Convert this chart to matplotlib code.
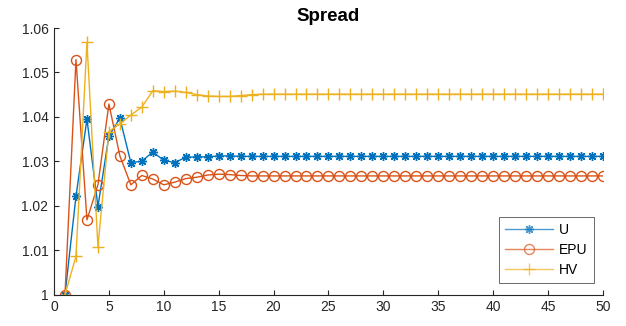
import matplotlib
matplotlib.use("Agg")
import matplotlib.pyplot as plt
from matplotlib.ticker import FuncFormatter

plt.rcParams['font.family'] = ['Liberation Sans', 'DejaVu Sans']

iterations = list(range(1, 51))

u_head = [1.0000, 1.0221, 1.0395, 1.0198, 1.0357, 1.0397, 1.0297, 1.0300, 1.0321,
          1.0302, 1.0297, 1.0309, 1.0310, 1.0310, 1.0312, 1.0312]
u_tail = [1.0311] * (50 - len(u_head))
u_vals = u_head + u_tail

epu_head = [1.0000, 1.0529, 1.0168, 1.0247, 1.0429, 1.0312, 1.0247, 1.0268, 1.0260,
            1.0247, 1.0253, 1.0261, 1.0264, 1.0269, 1.0271, 1.0270, 1.0268]
epu_tail = [1.0267] * (50 - len(epu_head))
epu_vals = epu_head + epu_tail

hv_head = [1.0000, 1.0086, 1.0568, 1.0108, 1.0367, 1.0384, 1.0404, 1.0422, 1.0459,
           1.0457, 1.0458, 1.0455, 1.0450, 1.0447, 1.0446, 1.0446, 1.0448, 1.0450,
           1.0451]
hv_tail = [1.0451] * (50 - len(hv_head))
hv_vals = hv_head + hv_tail

x_ticks = list(range(0, 51, 5))
y_ticks = [1.00, 1.01, 1.02, 1.03, 1.04, 1.05, 1.06]

axis_color = '#262626'
asterisk = (8, 2, 0)

fig = plt.figure(figsize=(6.26, 3.26), dpi=100)
ax = fig.add_axes([0.0863, 0.0966, 0.8767, 0.8174])

ax.plot(iterations, u_vals, color='#0072BD', lw=1.0, marker=asterisk, ms=6.5,
        mew=1.0, label='U')
ax.plot(iterations, epu_vals, color='#D95319', lw=1.0, marker='o', ms=7.2,
        mfc='none', mew=1.0, label='EPU')
ax.plot(iterations, hv_vals, color='#EDB120', lw=1.0, marker='+', ms=8,
        mew=1.0, label='HV')

ax.set_xlim(0, 50)
ax.set_ylim(1.0, 1.06)
ax.set_xticks(x_ticks)
ax.set_yticks(y_ticks)
ax.yaxis.set_major_formatter(FuncFormatter(lambda v, p: '%g' % round(v, 4)))

for side in ('top', 'right'):
    ax.spines[side].set_visible(False)
for side in ('left', 'bottom'):
    ax.spines[side].set_color(axis_color)
    ax.spines[side].set_linewidth(0.8)
ax.tick_params(direction='in', length=3.6, width=0.8, colors=axis_color,
               labelsize=10, pad=4)

ax.set_title('Spread', fontsize=13.5, fontweight='bold', color='black', pad=5)

leg = ax.legend(loc='lower right', fontsize=10, frameon=True, fancybox=False,
                edgecolor=axis_color, borderpad=0.45, handlelength=3.5,
                handletextpad=0.4, labelspacing=0.42, numpoints=1,
                borderaxespad=0, bbox_to_anchor=(0.9836, 0.043))
leg.get_frame().set_linewidth(0.6)
for line in leg.get_lines():
    line.set_alpha(0.7)

fig.savefig('out.png', dpi=100)
